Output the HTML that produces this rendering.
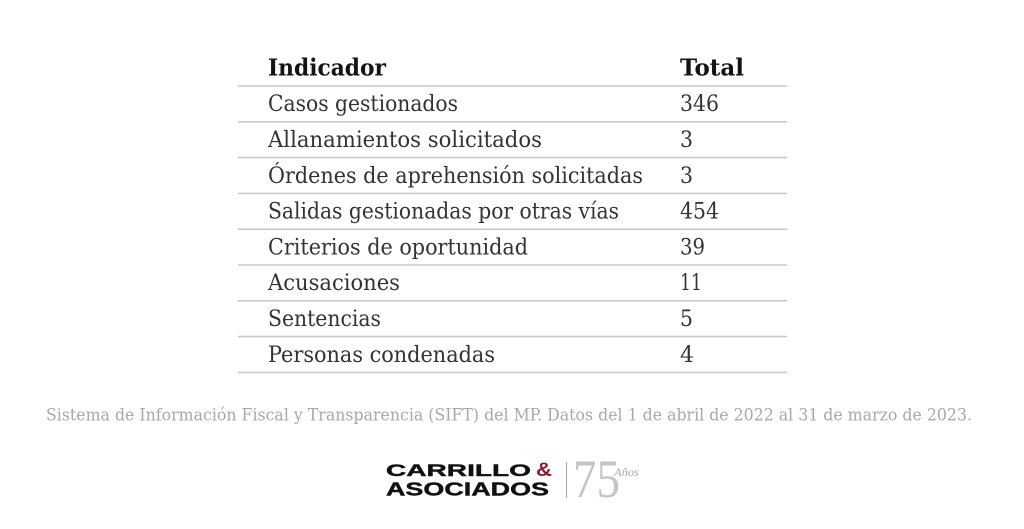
<!DOCTYPE html>
<html>
<head>
<meta charset="utf-8">
<style>
html,body{margin:0;padding:0;background:#fff;}
svg{display:block;}
</style>
</head>
<body>
<svg width="1024" height="529" viewBox="0 0 1024 529" xmlns="http://www.w3.org/2000/svg">
<rect width="1024" height="529" fill="#ffffff"/>
<g font-family="'DejaVu Serif','Liberation Serif',serif">
  <text x="268" y="75.5" font-size="23.5" font-weight="bold" fill="#141414" textLength="118" lengthAdjust="spacingAndGlyphs">Indicador</text>
  <text x="680" y="75.5" font-size="23.5" font-weight="bold" fill="#141414" textLength="64" lengthAdjust="spacingAndGlyphs">Total</text>
  <g stroke="#c9c9c9" stroke-width="1.6">
    <line x1="238" y1="86" x2="787" y2="86"/>
    <line x1="238" y1="121.8" x2="787" y2="121.8"/>
    <line x1="238" y1="157.6" x2="787" y2="157.6"/>
    <line x1="238" y1="193.4" x2="787" y2="193.4"/>
    <line x1="238" y1="229.2" x2="787" y2="229.2"/>
    <line x1="238" y1="265" x2="787" y2="265"/>
    <line x1="238" y1="300.8" x2="787" y2="300.8"/>
    <line x1="238" y1="336.6" x2="787" y2="336.6"/>
    <line x1="238" y1="372.4" x2="787" y2="372.4"/>
  </g>
  <g font-size="22" fill="#333333">
    <text x="268" y="111" textLength="190" lengthAdjust="spacingAndGlyphs">Casos gestionados</text>
    <text x="268" y="147" textLength="274" lengthAdjust="spacingAndGlyphs">Allanamientos solicitados</text>
    <text x="268" y="183" textLength="375" lengthAdjust="spacingAndGlyphs">Órdenes de aprehensión solicitadas</text>
    <text x="268" y="218.5" textLength="351" lengthAdjust="spacingAndGlyphs">Salidas gestionadas por otras vías</text>
    <text x="268" y="254.5" textLength="260" lengthAdjust="spacingAndGlyphs">Criterios de oportunidad</text>
    <text x="268" y="290" textLength="132" lengthAdjust="spacingAndGlyphs">Acusaciones</text>
    <text x="268" y="326" textLength="113" lengthAdjust="spacingAndGlyphs">Sentencias</text>
    <text x="268" y="362" textLength="227" lengthAdjust="spacingAndGlyphs">Personas condenadas</text>

    <text x="680" y="111" textLength="39" lengthAdjust="spacingAndGlyphs">346</text>
    <text x="680" y="147" textLength="13" lengthAdjust="spacingAndGlyphs">3</text>
    <text x="680" y="183" textLength="13" lengthAdjust="spacingAndGlyphs">3</text>
    <text x="680" y="218.5" textLength="39" lengthAdjust="spacingAndGlyphs">454</text>
    <text x="680" y="254.5" textLength="25" lengthAdjust="spacingAndGlyphs">39</text>
    <text x="680" y="290" textLength="22" lengthAdjust="spacingAndGlyphs">11</text>
    <text x="680" y="326" textLength="13" lengthAdjust="spacingAndGlyphs">5</text>
    <text x="680" y="362" textLength="14" lengthAdjust="spacingAndGlyphs">4</text>
  </g>
  <text x="46" y="420.5" font-size="17" fill="#a8a8a8" textLength="926" lengthAdjust="spacingAndGlyphs">Sistema de Información Fiscal y Transparencia (SIFT) del MP. Datos del 1 de abril de 2022 al 31 de marzo de 2023.</text>
</g>
<g font-family="'Liberation Sans','DejaVu Sans',sans-serif" font-weight="bold">
  <text x="386" y="476" font-size="17" fill="#111" stroke="#111" stroke-width="0.4" textLength="145" lengthAdjust="spacingAndGlyphs">CARRILLO</text>
  <text x="536" y="476" font-size="19" fill="#8e1b2e" textLength="16" lengthAdjust="spacingAndGlyphs">&amp;</text>
  <text x="386" y="495.5" font-size="18" fill="#111" stroke="#111" stroke-width="0.4" textLength="163" lengthAdjust="spacingAndGlyphs">ASOCIADOS</text>
</g>
<line x1="566.5" y1="462" x2="566.5" y2="498" stroke="#aaaaaa" stroke-width="1"/>
<text x="573" y="497" font-family="'Liberation Serif',serif" font-size="54" fill="#c4c4c4" textLength="47" lengthAdjust="spacingAndGlyphs">75</text>
<text x="614" y="476" font-family="'Liberation Serif',serif" font-style="italic" font-size="12" fill="#a8a8a8" textLength="25" lengthAdjust="spacingAndGlyphs">Años</text>
</svg>
</body>
</html>
